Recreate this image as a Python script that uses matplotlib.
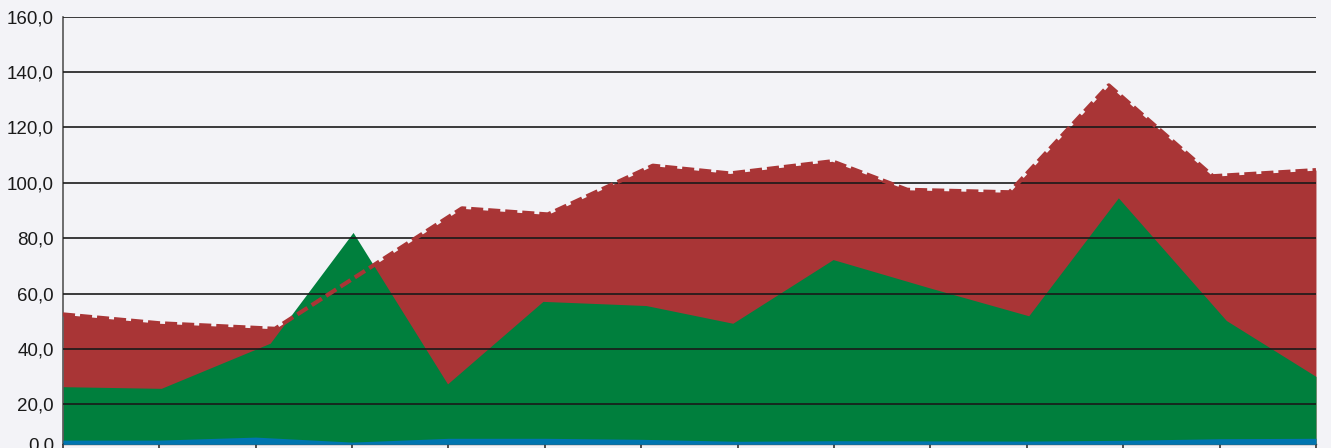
import numpy as np
import matplotlib
matplotlib.use("Agg")
import matplotlib.pyplot as plt

# values (x as position on the 0..13 category axis)
red_x = [0, 1.0, 2.2, 4.14, 5.03, 6.12, 6.92, 7.98, 8.76, 9.82, 10.85, 11.93, 13]
red_y = [52.5, 49.3, 47.3, 90.8, 88.6, 106.2, 103.4, 107.8, 97.5, 96.6, 135.2, 102.4, 104.6]

green_x = [0, 1.02, 2.15, 3.01, 3.99, 4.98, 6.05, 6.95, 7.99, 9.0, 10.02, 10.95, 12.07, 13]
green_y = [26.4, 25.8, 42.1, 82.1, 27.4, 57.2, 55.7, 49.3, 72.3, 62.0, 52.0, 94.6, 50.3, 30.1]

blue_x = list(range(14))
blue_y = [2.1, 2.1, 3.6, 1.1, 3.0, 3.0, 2.5, 1.5, 1.8, 1.7, 1.6, 2.0, 2.8, 3.0]

y_ticks = [0, 20, 40, 60, 80, 100, 120, 140, 160]
y_labels = [f"{v:.1f}".replace(".", ",") for v in y_ticks]

RED = "#a93536"
GREEN = "#007f3d"
BLUE = "#0075b0"
BG = "#f3f3f7"

# the band between 0 and 20 is drawn squeezed in the reference
K = 0.72


def fwd(v):
    v = np.asarray(v, dtype=float)
    return np.where(v >= 20, v, 20 - (20 - v) * K)


def inv(u):
    u = np.asarray(u, dtype=float)
    return np.where(u >= 20, u, 20 - (20 - u) / K)


plt.rcParams["font.family"] = ["Liberation Sans", "DejaVu Sans"]

fig = plt.figure(figsize=(13.31, 4.48), dpi=100, facecolor=BG)
ax = fig.add_axes([0.0473, 0.0083, 0.9414, 0.9544], facecolor=BG)
ax.set_yscale("function", functions=(fwd, inv))

ax.fill_between(red_x, 0, red_y, color=RED, lw=0, zorder=1)
ax.fill_between(green_x, 0, green_y, color=GREEN, lw=0, zorder=2)
ax.fill_between(blue_x, 0, blue_y, color=BLUE, lw=0, zorder=3)
ax.plot(red_x, red_y, color=RED, lw=3, linestyle=(0, (2.9, 1.2)), zorder=6,
        solid_capstyle="butt", dash_capstyle="butt")

ax.set_xlim(0, 13)
ax.set_ylim(0, 160)
ax.set_yticks(y_ticks)
ax.set_yticklabels(y_labels)
ax.set_xticks(range(14))
ax.set_xticklabels([])

ax.grid(True, axis="y", color="#1a1a1a", lw=1.2, zorder=5)
ax.set_axisbelow(False)
for gl in ax.get_ygridlines():
    gl.set_zorder(5)

ax.tick_params(axis="y", length=0, pad=6.5, labelsize=13.5, labelcolor="#1a1a1a")
ax.tick_params(axis="x", direction="out", length=4, width=1.2, color="#333333")

for side in ["top", "right"]:
    ax.spines[side].set_visible(False)
ax.spines["left"].set_color("#555555")
ax.spines["left"].set_linewidth(1.2)
ax.spines["bottom"].set_color("#555555")
ax.spines["bottom"].set_linewidth(1.0)

fig.savefig("out.png", dpi=100, facecolor=BG)
plt.close(fig)
